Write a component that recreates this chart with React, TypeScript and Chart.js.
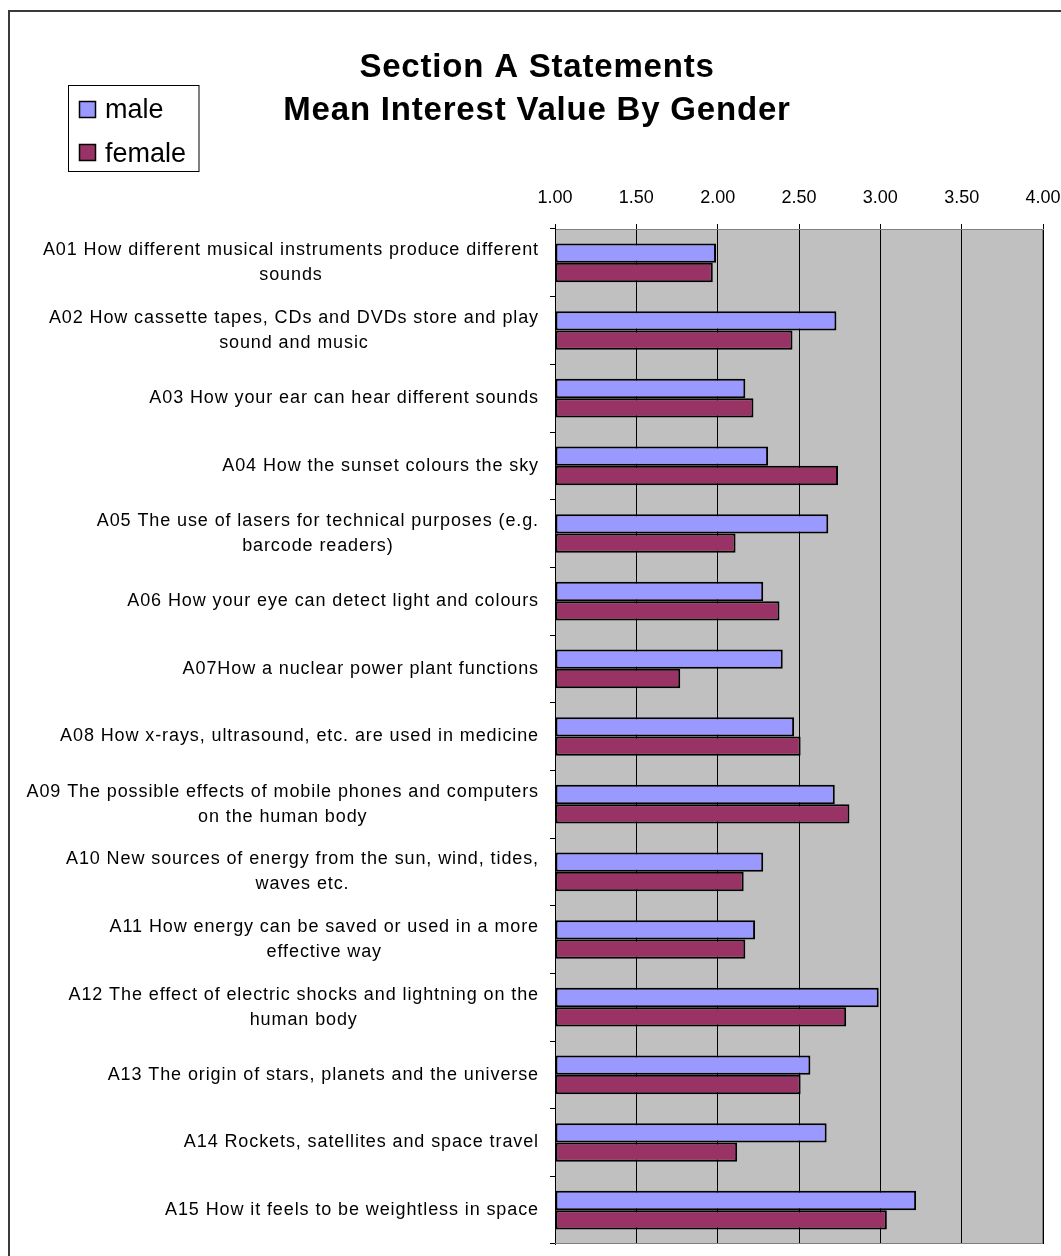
import React, { useEffect, useRef } from 'react';
import { Chart, registerables } from 'chart.js';

Chart.register(...registerables);

// ---- data ----
const categories: string[][] = [
  ['A01 How different musical instruments produce different', 'sounds'],
  ['A02 How cassette tapes, CDs and DVDs store and play', 'sound and music'],
  ['A03 How your ear can hear different sounds'],
  ['A04 How the sunset colours the sky'],
  ['A05 The use of lasers for technical purposes (e.g.', 'barcode readers)'],
  ['A06 How your eye can detect light and colours'],
  ['A07How a nuclear power plant functions'],
  ['A08 How x-rays, ultrasound, etc. are used in medicine'],
  ['A09 The possible effects of mobile phones and computers', 'on the human body'],
  ['A10 New sources of energy from the sun, wind, tides,', 'waves etc.'],
  ['A11 How energy can be saved or used in a more', 'effective way'],
  ['A12 The effect of electric shocks and lightning on the', 'human body'],
  ['A13 The origin of stars, planets and the universe'],
  ['A14 Rockets, satellites and space travel'],
  ['A15 How it feels to be weightless in space'],
];

const maleValues = [1.99, 2.73, 2.17, 2.31, 2.68, 2.28, 2.40, 2.47, 2.72, 2.28, 2.23, 2.99, 2.57, 2.67, 3.22];
const femaleValues = [1.97, 2.46, 2.22, 2.74, 2.11, 2.38, 1.77, 2.51, 2.81, 2.16, 2.17, 2.79, 2.51, 2.12, 3.04];

const seriesNames = ['male', 'female'];
const seriesColors = ['#9999FF', '#993366'];

const xTickLabels = ['1.00', '1.50', '2.00', '2.50', '3.00', '3.50', '4.00'];
const xMin = 1;
const xMax = 4;
const xStep = 0.5;

const titleLines = ['Section A Statements', 'Mean Interest Value By Gender'];

const FONT = '"Liberation Sans", Arial, Helvetica, sans-serif';

const decorPlugin = {
  id: 'decor',
  beforeDraw(chart: any) {
    const { ctx, chartArea: a } = chart;
    ctx.save();
    ctx.fillStyle = '#C0C0C0';
    ctx.fillRect(a.left, a.top, a.right - a.left, a.bottom - a.top);
    ctx.restore();
  },
  beforeDatasetsDraw(chart: any) {
    const { ctx, chartArea: a } = chart;
    ctx.save();
    ctx.strokeStyle = '#808080';
    ctx.lineWidth = 1;
    ctx.beginPath();
    ctx.moveTo(Math.round(a.right) - 0.5, a.top);
    ctx.lineTo(Math.round(a.right) - 0.5, a.bottom);
    ctx.moveTo(a.left, Math.round(a.bottom) - 0.5);
    ctx.lineTo(a.right, Math.round(a.bottom) - 0.5);
    ctx.stroke();
    ctx.restore();
  },
  afterDraw(chart: any) {
    const { ctx } = chart;
    const yScale = chart.scales.y;
    ctx.save();

    // outer chart border
    ctx.strokeStyle = '#3a3a3a';
    ctx.lineWidth = 2;
    ctx.strokeRect(9, 11, 1400, 1600);

    // title
    ctx.fillStyle = '#000';
    ctx.font = `bold 33px ${FONT}`;
    ctx.textAlign = 'center';
    ctx.textBaseline = 'alphabetic';
    (ctx as any).letterSpacing = '0.8px';
    ctx.fillText(titleLines[0], 537, 77);
    ctx.fillText(titleLines[1], 537, 120);
    (ctx as any).letterSpacing = '0px';

    // legend
    ctx.strokeStyle = '#000';
    ctx.lineWidth = 1;
    ctx.strokeRect(68.5, 85.5, 130.5, 86);
    const swatchTops = [101, 144];
    const baselines = [118, 161.5];
    ctx.font = `27px ${FONT}`;
    ctx.textAlign = 'left';
    for (let i = 0; i < seriesNames.length; i++) {
      ctx.fillStyle = seriesColors[i];
      ctx.fillRect(79, swatchTops[i], 17, 17);
      ctx.strokeStyle = '#000';
      ctx.lineWidth = 1.5;
      ctx.strokeRect(79.5, swatchTops[i] + 0.5, 16, 16);
      ctx.fillStyle = '#000';
      ctx.fillText(seriesNames[i], 105, baselines[i]);
    }

    // category labels: block right-aligned, lines centered within block
    ctx.font = `18px ${FONT}`;
    (ctx as any).letterSpacing = '0.9px';
    ctx.textAlign = 'center';
    ctx.textBaseline = 'middle';
    ctx.fillStyle = '#000';
    const right = 539;
    const lineH = 25;
    categories.forEach((lines, i) => {
      const cy = yScale.getPixelForValue(i);
      const w = Math.max(...lines.map((l) => ctx.measureText(l).width));
      const cx = right - w / 2;
      lines.forEach((l, j) => {
        ctx.fillText(l, cx, cy + (j - (lines.length - 1) / 2) * lineH);
      });
    });
    (ctx as any).letterSpacing = '0px';
    ctx.restore();
  },
};

export default function App() {
  const ref = useRef<HTMLCanvasElement>(null);

  useEffect(() => {
    document.body.style.margin = '0';
    const canvas = ref.current!;
    const chart = new Chart(canvas, {
      type: 'bar',
      data: {
        labels: categories.map((c) => c.join(' ')),
        datasets: seriesNames.map((name, i) => ({
          label: name,
          data: i === 0 ? maleValues : femaleValues,
          backgroundColor: seriesColors[i],
          borderColor: '#000000',
          borderWidth: 2,
          borderSkipped: false,
          base: xMin,
        })) as any,
      },
      options: {
        indexAxis: 'y',
        responsive: false,
        animation: false,
        events: [],
        layout: { padding: { left: 0, right: 18, top: 0, bottom: 12 } },
        datasets: { bar: { categoryPercentage: 2 / 3.5, barPercentage: 1 } },
        plugins: {
          legend: { display: false },
          title: { display: false },
          tooltip: { enabled: false },
        },
        scales: {
          x: {
            position: 'top',
            min: xMin,
            max: xMax,
            ticks: {
              stepSize: xStep,
              callback: (_v: any, idx: number) => xTickLabels[idx],
              font: { family: FONT, size: 18 },
              color: '#000',
              padding: 15,
              maxRotation: 0,
              autoSkip: false,
            },
            grid: { color: '#000', lineWidth: 1, tickLength: 5, drawTicks: true },
            border: { display: true, color: '#808080' },
            afterFit: (s: any) => {
              s.height = 229;
              s.paddingRight = 0;
              s.paddingLeft = 0;
            },
          },
          y: {
            ticks: { display: false },
            grid: {
              drawOnChartArea: false,
              drawTicks: true,
              tickLength: 5,
              color: '#000',
              offset: true,
            },
            border: { display: true, color: '#000' },
            afterFit: (s: any) => {
              s.width = 555;
            },
          },
        },
      } as any,
      plugins: [decorPlugin],
    });
    return () => chart.destroy();
  }, []);

  return <canvas ref={ref} width={1061} height={1256} style={{ display: 'block' }} />;
}
